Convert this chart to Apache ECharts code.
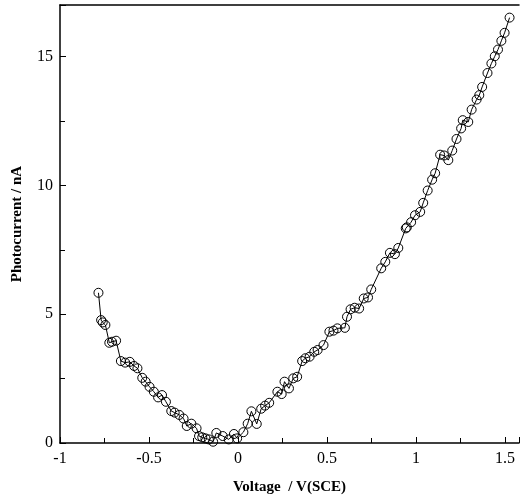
<!DOCTYPE html>
<html>
<head>
<meta charset="utf-8">
<script src="https://cdn.jsdelivr.net/npm/echarts@6/dist/echarts.min.js"></script>
<style>html,body{margin:0;padding:0;background:#fff;overflow:hidden}#c{width:522px;height:500px}</style>
</head>
<body>
<div id="c"></div>
<script>
const voltage = [-0.784,-0.769,-0.760,-0.745,-0.723,-0.708,-0.685,-0.658,-0.634,-0.608,-0.584,-0.565,-0.538,-0.519,-0.497,-0.473,-0.449,-0.427,-0.405,-0.375,-0.356,-0.330,-0.306,-0.288,-0.262,-0.233,-0.219,-0.201,-0.183,-0.164,-0.140,-0.122,-0.086,-0.052,-0.023,-0.005,0.030,0.054,0.075,0.105,0.130,0.152,0.175,0.221,0.245,0.261,0.286,0.310,0.332,0.360,0.378,0.402,0.428,0.447,0.480,0.513,0.536,0.558,0.600,0.612,0.632,0.655,0.680,0.706,0.730,0.748,0.804,0.827,0.853,0.881,0.900,0.942,0.948,0.972,0.994,1.023,1.040,1.065,1.090,1.107,1.135,1.157,1.181,1.203,1.227,1.253,1.262,1.293,1.312,1.340,1.355,1.371,1.401,1.423,1.442,1.460,1.479,1.497,1.525];
const photocurrent = [5.83,4.77,4.68,4.58,3.89,3.93,3.97,3.18,3.12,3.15,2.99,2.90,2.53,2.38,2.18,1.99,1.77,1.86,1.60,1.24,1.18,1.09,0.95,0.66,0.75,0.57,0.27,0.22,0.18,0.14,0.05,0.39,0.27,0.14,0.35,0.18,0.42,0.75,1.23,0.74,1.33,1.45,1.56,1.99,1.90,2.38,2.12,2.51,2.57,3.18,3.29,3.35,3.54,3.61,3.80,4.32,4.36,4.45,4.47,4.90,5.19,5.25,5.22,5.61,5.65,5.96,6.78,7.03,7.38,7.33,7.57,8.33,8.37,8.57,8.84,8.97,9.32,9.80,10.22,10.47,11.19,11.16,10.98,11.35,11.80,12.21,12.53,12.46,12.94,13.33,13.50,13.82,14.36,14.73,15.01,15.27,15.61,15.92,16.51];
const xLabel = 'Voltage  / V(SCE)';
const yLabel = 'Photocurrent / nA';

const data = voltage.map((v, i) => [v, photocurrent[i]]);
const font = '"Liberation Serif", "Times New Roman", serif';
const X_MAX = 1.578;
const chart = echarts.init(document.getElementById('c'), null, {renderer: 'canvas'});
chart.setOption({
  animation: false,
  backgroundColor: '#fff',
  grid: {left: 60, right: -3, top: 5, bottom: 57, containLabel: false},
  xAxis: [{
    type: 'value', min: -1, max: X_MAX, interval: 0.5,
    position: 'bottom',
    name: xLabel, nameLocation: 'middle', nameGap: 37,
    nameTextStyle: {fontFamily: font, fontWeight: 'bold', fontSize: 15, color: '#000'},
    axisLine: {show: true, onZero: false, lineStyle: {color: '#000', width: 1.5}},
    axisTick: {show: true, inside: true, length: 6, lineStyle: {color: '#000', width: 1}},
    minorTick: {show: true, splitNumber: 2, length: 5, lineStyle: {color: '#000', width: 1}},
    axisLabel: {fontFamily: font, fontSize: 16, color: '#000', margin: 8,
      formatter: v => (v > 1.55 ? '' : String(v))},
    splitLine: {show: false}
  }, {
    type: 'value', min: -1, max: X_MAX, position: 'top',
    axisLine: {show: true, onZero: false, lineStyle: {color: '#000', width: 1.5}},
    axisTick: {show: false}, axisLabel: {show: false}, splitLine: {show: false}
  }],
  yAxis: {
    type: 'value', min: 0, max: 17, interval: 5,
    name: yLabel, nameLocation: 'middle', nameGap: 35,
    nameTextStyle: {fontFamily: font, fontWeight: 'bold', fontSize: 15, color: '#000'},
    axisLine: {show: true, onZero: false, lineStyle: {color: '#000', width: 1.5}},
    axisTick: {show: true, inside: true, length: 6, lineStyle: {color: '#000', width: 1}},
    minorTick: {show: true, splitNumber: 2, length: 5, lineStyle: {color: '#000', width: 1}},
    axisLabel: {fontFamily: font, fontSize: 16, color: '#000', margin: 7,
      formatter: v => (v > 16 ? '' : String(v))},
    splitLine: {show: false}
  },
  series: [{
    type: 'line', data: data, xAxisIndex: 0,
    symbol: 'circle', symbolSize: 9, showAllSymbol: true,
    lineStyle: {color: '#000', width: 1},
    itemStyle: {color: 'rgba(0,0,0,0)', borderColor: '#000', borderWidth: 1}
  }]
});
</script>
</body>
</html>
